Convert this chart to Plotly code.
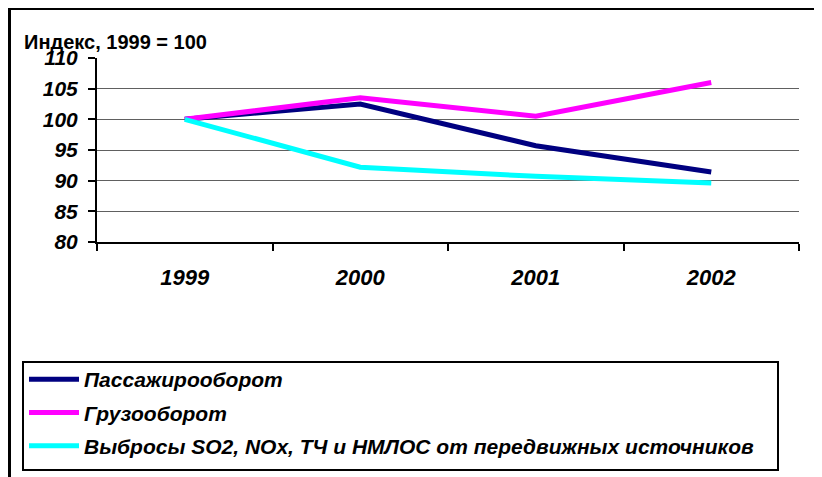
import plotly.graph_objects as go

years = ["1999", "2000", "2001", "2002"]
passenger = [100.0, 102.5, 95.7, 91.4]
freight = [100.0, 103.5, 100.5, 106.0]
emissions = [100.0, 92.2, 90.7, 89.6]
series_names = [
    "Пассажирооборот",
    "Грузооборот",
    "Выбросы SO2, NOx, ТЧ и НМЛОС от передвижных источников",
]
colors = ["#000080", "#FF00FF", "#00FFFF"]
y_ticks = [80, 85, 90, 95, 100, 105, 110]
title_text = "Индекс, 1999 = 100"

# page has an 8px body margin; work in page pixels and convert
OFF = 8
PAGE_W, PAGE_H = 822, 477
FW, FH = PAGE_W - OFF, PAGE_H - OFF
PL, PR, PT, PB = 97, 799, 58, 242  # plot area in page pixels
L, R = PL - OFF, PAGE_W - PR
T, B = PT - OFF, FH - (PB - OFF)
PW, PH = PR - PL, PB - PT


def px_x(px):
    return (px - PL) / PW


def px_y(py):
    return (PB - py) / PH


FONT = "Liberation Sans, Arial, sans-serif"

fig = go.Figure()
for name, vals, col in zip(series_names, [passenger, freight, emissions], colors):
    fig.add_trace(go.Scatter(
        x=years, y=vals, mode="lines", name=name,
        line=dict(color=col, width=5), legendgroup=name,
    ))

fig.update_layout(
    width=FW, height=FH,
    margin=dict(l=L, r=R, t=T, b=B, autoexpand=False),
    paper_bgcolor="white", plot_bgcolor="white",
    font=dict(family=FONT, color="black"),
    showlegend=True,
    legend=dict(
        x=px_x(24), y=px_y(359), xanchor="left", yanchor="top",
        bgcolor="rgba(0,0,0,0)", borderwidth=0,
        font=dict(family=FONT, size=21, weight="bold", style="italic", color="black"),
        traceorder="grouped", tracegroupgap=3, itemwidth=50,
    ),
    xaxis=dict(
        type="category", range=[-0.5, 3.5], tickson="boundaries",
        showline=True, linecolor="black", linewidth=2,
        ticks="outside", ticklen=7, tickwidth=2, tickcolor="black",
        showgrid=False, zeroline=False, ticklabelstandoff=15,
        tickfont=dict(family=FONT, size=22, weight="bold", style="italic", color="black"),
    ),
    yaxis=dict(
        range=[80, 110], tickvals=y_ticks,
        showline=True, linecolor="black", linewidth=2,
        ticks="outside", ticklen=7, tickwidth=2, tickcolor="black",
        showgrid=True, gridcolor="#606060", gridwidth=1, zeroline=False,
        ticklabelstandoff=6,
        tickfont=dict(family=FONT, size=21, weight="bold", style="italic", color="black"),
    ),
    shapes=[
        dict(type="line", xref="paper", yref="paper",
             x0=px_x(8), x1=px_x(822), y0=px_y(8.5), y1=px_y(8.5),
             line=dict(color="black", width=3)),
        dict(type="line", xref="paper", yref="paper",
             x0=px_x(9.5), x1=px_x(9.5), y0=px_y(7), y1=px_y(477),
             line=dict(color="black", width=3)),
        dict(type="rect", xref="paper", yref="paper",
             x0=px_x(23), x1=px_x(778), y0=px_y(362), y1=px_y(470),
             line=dict(color="black", width=2), fillcolor="rgba(0,0,0,0)"),
    ],
    annotations=[
        dict(text=title_text, xref="paper", yref="paper",
             x=px_x(22), y=px_y(42), xanchor="left", yanchor="middle",
             showarrow=False,
             font=dict(family=FONT, size=20, weight="bold", color="black")),
    ],
)

fig.write_html("out.html")
